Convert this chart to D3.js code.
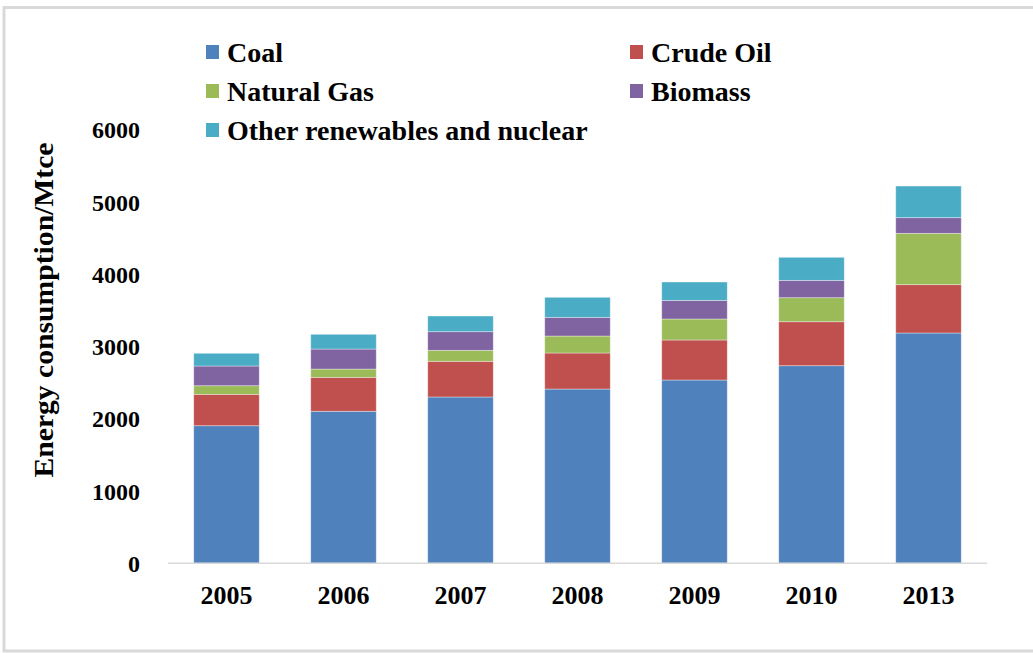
<!DOCTYPE html>
<html>
<head>
<meta charset="utf-8">
<script src="https://cdn.jsdelivr.net/npm/d3@7/dist/d3.min.js"></script>
<style>
  html, body { margin: 0; padding: 0; background: #fff; }
  svg { display: block; }
  text { font-family: "Liberation Serif", "Times New Roman", serif; font-weight: bold; fill: #000; }
</style>
</head>
<body>
<svg id="chart" width="1033" height="653"></svg>
<script>
// Energy consumption by source (Mtce)
const years = ["2005", "2006", "2007", "2008", "2009", "2010", "2013"];
const coal       = [1905, 2105, 2303, 2413, 2538, 2736, 3189];
const crudeOil   = [435, 470, 494, 499, 554, 609, 669];
const naturalGas = [119, 115, 152, 235, 291, 333, 711];
const biomass    = [273, 277, 258, 259, 258, 240, 217];
const otherRenew = [176, 204, 217, 277, 254, 319, 438];

const seriesNames = ["Coal", "Crude Oil", "Natural Gas", "Biomass", "Other renewables and nuclear"];
const seriesColors = ["#4f81bd", "#c0504d", "#9bbb59", "#8064a2", "#4bacc6"];
const yTicks = [0, 1000, 2000, 3000, 4000, 5000, 6000];

const seriesValues = [coal, crudeOil, naturalGas, biomass, otherRenew];
const keys = seriesNames;
const rows = years.map((yr, i) => {
  const r = { year: yr };
  keys.forEach((k, j) => { r[k] = seriesValues[j][i]; });
  return r;
});

const svg = d3.select("#chart");

// outer frame
svg.append("rect")
  .attr("x", 4).attr("y", 7.5)
  .attr("width", 1045).attr("height", 643.5)
  .attr("fill", "none")
  .attr("stroke", "#d9d9d9")
  .attr("stroke-width", 3);

const x = d3.scaleBand().domain(years).range([168, 987]).paddingInner(0.44).paddingOuter(0.22);
const y = d3.scaleLinear().domain([0, 6000]).range([563.3, 130]);
const color = d3.scaleOrdinal().domain(keys).range(seriesColors);

const stacked = d3.stack().keys(keys)(rows);

svg.append("g")
  .selectAll("g")
  .data(stacked)
  .join("g")
  .attr("fill", d => color(d.key))
  .selectAll("rect")
  .data(d => d)
  .join("rect")
  .attr("x", d => x(d.data.year))
  .attr("width", x.bandwidth())
  .attr("y", d => y(d[1]))
  .attr("height", d => y(d[0]) - y(d[1]))
  .attr("stroke", "rgba(255,255,255,0.45)")
  .attr("stroke-width", 0.8);

// baseline
svg.append("line")
  .attr("x1", 168).attr("x2", 987)
  .attr("y1", y(0)).attr("y2", y(0))
  .attr("stroke", "#d9d9d9")
  .attr("stroke-width", 1.5);

// y axis labels
const yAxis = d3.axisLeft(y).tickValues(yTicks).tickSize(0).tickPadding(0).tickFormat(d3.format("d"));
const yg = svg.append("g").attr("transform", "translate(140,0)").call(yAxis);
yg.select(".domain").remove();
yg.selectAll("text")
  .style("font-family", "'Liberation Serif', 'Times New Roman', serif")
  .style("font-weight", "bold")
  .style("font-size", "24px")
  .attr("fill", "#000")
  .attr("dy", "0.33em");

// x axis labels
const xAxis = d3.axisBottom(x).tickSize(0).tickPadding(0);
const xg = svg.append("g").attr("transform", "translate(0,586)").call(xAxis);
xg.select(".domain").remove();
xg.selectAll("text")
  .style("font-family", "'Liberation Serif', 'Times New Roman', serif")
  .style("font-weight", "bold")
  .style("font-size", "26px")
  .attr("fill", "#000")
  .attr("dy", "0.71em");

// y axis title
svg.append("text")
  .attr("transform", "translate(53,310) rotate(-90)")
  .attr("text-anchor", "middle")
  .style("font-size", "27px")
  .attr("textLength", 335)
  .attr("lengthAdjust", "spacingAndGlyphs")
  .text("Energy consumption/Mtce");

// legend
const legendPos = [
  { x: 206, y: 52 }, { x: 630, y: 52 },
  { x: 206, y: 91 }, { x: 630, y: 91 },
  { x: 206, y: 130 }
];
const lg = svg.append("g");
const items = lg.selectAll("g")
  .data(keys)
  .join("g")
  .attr("transform", (d, i) => `translate(${legendPos[i].x},${legendPos[i].y})`);
items.append("rect")
  .attr("x", 0).attr("y", -7)
  .attr("width", 13).attr("height", 14)
  .attr("fill", d => color(d));
items.append("text")
  .attr("x", 21)
  .attr("y", 10)
  .style("font-size", "28px")
  .text(d => d);
</script>
</body>
</html>
